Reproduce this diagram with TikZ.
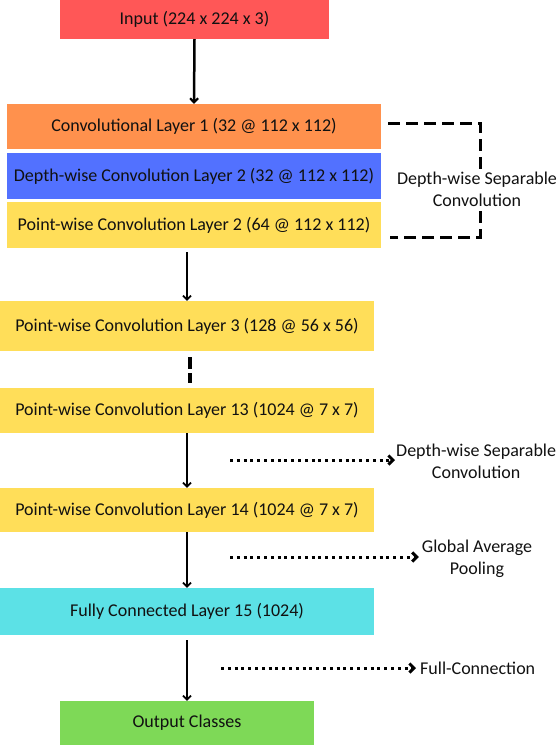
\documentclass[tikz,border=0pt]{standalone}
\usepackage{fontspec}
\setmainfont{Carlito}
\usetikzlibrary{arrows.meta}
\definecolor{cinput}{HTML}{FF5757}
\definecolor{cconv}{HTML}{FF914D}
\definecolor{cdepth}{HTML}{5271FF}
\definecolor{cpoint}{HTML}{FFDE59}
\definecolor{cfc}{HTML}{5CE1E6}
\definecolor{cout}{HTML}{7ED957}
\definecolor{ctext}{HTML}{111111}
\begin{document}
\begin{tikzpicture}[x=1pt,y=-1pt,
  font=\fontsize{18}{22}\selectfont,
  layer/.style={rectangle, inner sep=0pt, text=ctext},
  lbl/.style={align=center, text=ctext, inner sep=1pt},
  arr/.style={line width=1.5pt, -{Straight Barb[length=4pt,width=8pt,line width=1.8pt]}},
  bigarr/.style={line width=2.5pt, -{Straight Barb[length=4pt,width=8pt,line width=2.2pt]}},
  dotarr/.style={line width=3pt, dash pattern=on 3pt off 3.8pt, -{Straight Barb[length=4.5pt,width=9pt,line width=3pt]}},
  brk/.style={line width=3pt, dash pattern=on 12pt off 6pt},
  shortdash/.style={line width=3.5pt, dash pattern=on 12pt off 4pt}
]
\useasboundingbox (0,0) rectangle (560,748);

\node[layer, fill=cinput, minimum width=269pt, minimum height=39pt] (inp) at (194.5,19.5) {Input (224 x 224 x 3)};
\node[layer, fill=cconv, minimum width=374pt, minimum height=45pt] (c1) at (194,126.5) {Convolutional Layer 1 (32 @ 112 x 112)};
\node[layer, fill=cdepth, minimum width=374pt, minimum height=46pt] (d2) at (194,176) {Depth-wise Convolution Layer 2 (32 @ 112 x 112)};
\node[layer, fill=cpoint, minimum width=374pt, minimum height=46pt] (p2) at (194,225) {Point-wise Convolution Layer 2 (64 @ 112 x 112)};
\node[layer, fill=cpoint, minimum width=374pt, minimum height=50pt] (p3) at (187,326) {Point-wise Convolution Layer 3 (128 @ 56 x 56)};
\node[layer, fill=cpoint, minimum width=374pt, minimum height=45pt] (p13) at (187,410.5) {Point-wise Convolution Layer 13 (1024 @ 7 x 7)};
\node[layer, fill=cpoint, minimum width=374pt, minimum height=44pt] (p14) at (187,510) {Point-wise Convolution Layer 14 (1024 @ 7 x 7)};
\node[layer, fill=cfc, minimum width=374pt, minimum height=47pt] (fc) at (187,611.5) {Fully Connected Layer 15 (1024)};
\node[layer, fill=cout, minimum width=254pt, minimum height=44pt] (out) at (187,723) {Output Classes};

% vertical connectors
\draw[bigarr] (inp.south) -- (c1.north);
\draw[arr, shorten <=4pt] (p2.south -| p3.north) -- (p3.north);
\draw[shortdash, shorten <=6pt, shorten >=5pt] ([xshift=3pt]p3.south) -- ([xshift=3pt]p13.north);
\draw[arr] (p13.south) -- (p14.north);
\draw[arr] (p14.south) -- (fc.north);
\draw[arr, shorten <=5pt] (fc.south) -- (out.north);

% bracket
\coordinate (bA) at (388,123);
\coordinate (bB) at (480,237);
\coordinate (bC) at (390,237);
\draw[brk] (bA) -| (bB) -- (bC);
\node[lbl, fill=white, inner sep=2pt] (sep1) at (477,189) {Depth-wise Separable\\Convolution};

% side labels with dotted arrows
\node[lbl, anchor=west] (sep2) at (395,461.5) {Depth-wise Separable\\Convolution};
\coordinate (s2) at (230,460);
\draw[dotarr] (s2) -- (s2 -| sep2.west);

\node[lbl] (gap) at (477,558.5) {Global Average\\Pooling};
\coordinate (s3) at (230,557);
\draw[dotarr] (s3) -- ([xshift=-2pt]s3 -| gap.west);

\node[lbl, anchor=west] (fcl) at (419,668) {Full-Connection};
\coordinate (s4) at (221,668);
\draw[dotarr] (s4) -- ([xshift=-3pt]s4 -| fcl.west);
\end{tikzpicture}
\end{document}
